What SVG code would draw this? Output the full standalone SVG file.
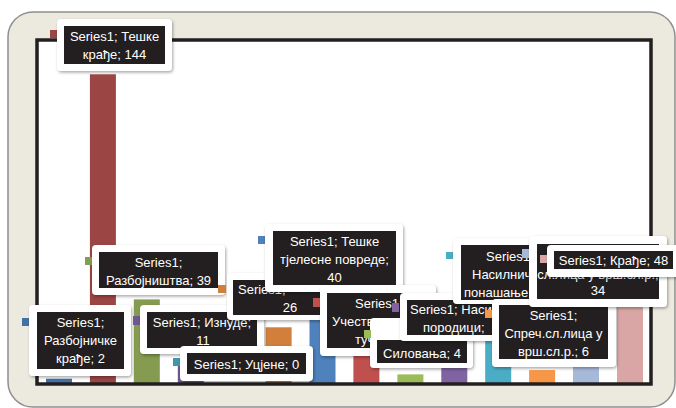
<svg xmlns="http://www.w3.org/2000/svg" width="676" height="408" viewBox="0 0 676 408">
<defs>
<filter id="sh" x="-10%" y="-15%" width="125%" height="140%">
<feDropShadow dx="1" dy="1.5" stdDeviation="1.6" flood-color="#000" flood-opacity="0.35"/>
</filter>
<style>
.frame{fill:#fff;filter:url(#sh)}
.box{fill:#231F20}
.t{font-family:"Liberation Sans",Arial,sans-serif;font-size:13px;fill:#fff}
.m{text-anchor:middle}
</style>
</defs>
<rect x="8" y="12" width="667" height="395" rx="25" fill="#ECE9DF" stroke="#8F8F8F" stroke-width="1.5"/>
<rect x="37" y="40" width="614" height="344" fill="#fff"/>
<g id="bars">
<rect x="46" y="378.7" width="26" height="5.3" fill="#4470A6"/>
<rect x="89.9" y="74.3" width="26" height="309.7" fill="#9B4544"/>
<rect x="133.8" y="299.4" width="26" height="84.6" fill="#859B4F"/>
<rect x="177.8" y="359.4" width="26" height="24.6" fill="#6E5890"/>
<rect x="265.6" y="327.3" width="26" height="56.7" fill="#D17F3A"/>
<rect x="309.5" y="297.2" width="26" height="86.8" fill="#4F81BD"/>
<rect x="353.4" y="340" width="26" height="44" fill="#C0504D"/>
<rect x="397.4" y="374.4" width="26" height="9.6" fill="#9BBB59"/>
<rect x="441.3" y="366" width="26" height="18" fill="#8064A2"/>
<rect x="485.2" y="318.7" width="26" height="65.3" fill="#4BACC6"/>
<rect x="529.1" y="370.1" width="26" height="13.9" fill="#F79646"/>
<rect x="573" y="310.1" width="26" height="73.9" fill="#A7B9D8"/>
<rect x="617" y="280.1" width="26" height="103.9" fill="#D9A6A5"/>
</g>
<rect id="plot-frame" x="37" y="40" width="614" height="344" fill="none" stroke="#231F20" stroke-width="3.5"/>
<g id="labels">
<g id="label-teske-kradje">
<rect x="50" y="30" width="7" height="8" fill="#9B4544"/>
<rect class="frame" x="57" y="19" width="115" height="52" rx="4"/>
<rect class="box" x="64" y="26" width="101" height="38"/>
<text class="t m" x="114.5" y="41">Series1; Тешке</text>
<text class="t m" x="114.5" y="59">крађе; 144</text>
</g>
<g id="label-razbojnistva">
<rect x="85" y="257" width="7" height="8" fill="#859B4F"/>
<rect class="frame" x="92" y="245" width="133" height="50" rx="4"/>
<rect class="box" x="99" y="252" width="119" height="36"/>
<text class="t m" x="158.5" y="266.5">Series1;</text>
<text class="t m" x="158.5" y="284.5">Разбојништва; 39</text>
</g>
<g id="label-razbojnicke-kradje">
<rect x="22" y="318" width="7" height="8" fill="#4470A6"/>
<rect class="frame" x="29" y="305" width="102" height="71" rx="4"/>
<rect class="box" x="37" y="312" width="87" height="57"/>
<text class="t m" x="80.5" y="327">Series1;</text>
<text class="t m" x="80.5" y="345">Разбојничке</text>
<text class="t m" x="80.5" y="363">крађе; 2</text>
</g>
<g id="label-iznude">
<rect x="133" y="316" width="7" height="9" fill="#6E5890"/>
<rect class="frame" x="140" y="305" width="124" height="49" rx="4"/>
<rect class="box" x="147" y="312" width="110" height="36"/>
<text class="t m" x="202" y="327">Series1; Изнуде;</text>
<text class="t m" x="203" y="345">11</text>
</g>
<g id="label-ucjene">
<rect x="173" y="358" width="7" height="8" fill="#4096AB"/>
<rect class="frame" x="180" y="346" width="133" height="35" rx="4"/>
<rect class="box" x="187" y="353" width="119" height="21"/>
<text class="t m" x="246.5" y="368.5">Series1; Уцјене; 0</text>
</g>
<g id="label-26">
<rect x="218" y="285" width="8" height="8" fill="#D17F3A"/>
<rect class="frame" x="227" y="273" width="126" height="47" rx="4"/>
<rect class="box" x="233" y="280" width="114" height="35"/>
<text class="t" x="238" y="293.5">Series1;</text>
<text class="t m" x="290" y="311.5">26</text>
</g>
<g id="label-teske-tjelesne">
<rect x="258" y="236" width="7" height="8" fill="#4F81BD"/>
<rect class="frame" x="265" y="224" width="138" height="68" rx="4"/>
<rect class="box" x="273" y="231" width="123" height="54"/>
<text class="t m" x="334.5" y="245.5">Series1; Тешке</text>
<text class="t m" x="334.5" y="263.5">тјелесне повреде;</text>
<text class="t m" x="334.5" y="281.5">40</text>
</g>
<g id="label-ucestvovanje">
<rect x="313" y="298" width="7" height="9" fill="#C0504D"/>
<rect class="frame" x="320" y="285" width="116" height="71" rx="4"/>
<rect class="box" x="327" y="293" width="102" height="55"/>
<text class="t" x="355" y="307.5">Series1;</text>
<text class="t" x="332" y="325.5">Учествовање у</text>
<text class="t" x="355" y="343.5">тучи;</text>
</g>
<g id="label-silovanja">
<rect class="frame" x="370" y="318" width="103" height="50" rx="4"/>
<rect class="box" x="377" y="340" width="90" height="23"/>
<text class="t m" x="422" y="357.5">Силовања; 4</text>
<rect x="364" y="330" width="7" height="8" fill="#9BBB59"/>
</g>
<g id="label-nasilje-porodici">
<rect x="392" y="303" width="7" height="9" fill="#8064A2"/>
<rect class="frame" x="400" y="293" width="130" height="48" rx="4"/>
<rect class="box" x="407" y="300" width="116" height="35"/>
<text class="t" x="410" y="313.5">Series1; Насиље у</text>
<text class="t" x="423" y="331.5">породици;</text>
</g>
<g id="label-nasilnicko">
<rect x="446" y="252" width="7" height="7" fill="#4BACC6"/>
<rect class="frame" x="453" y="238" width="112" height="66" rx="4"/>
<rect class="box" x="461" y="245" width="96" height="55"/>
<text class="t" x="486" y="261">Series1;</text>
<text class="t" x="472" y="279">Насилничко</text>
<text class="t" x="464" y="297">понашање;</text>
</g>
<g id="label-sprec">
<rect x="485" y="310" width="7" height="8" fill="#F79646"/>
<rect class="frame" x="492" y="299" width="124" height="68" rx="4"/>
<rect class="box" x="499" y="305" width="109" height="54"/>
<text class="t m" x="553.5" y="320">Series1;</text>
<text class="t m" x="553.5" y="338">Спреч.сл.лица у</text>
<text class="t m" x="553.5" y="356">врш.сл.р.; 6</text>
</g>
<g id="label-34">
<rect x="522" y="249" width="8" height="9" fill="#A7B9D8"/>
<rect class="frame" x="529" y="236" width="138" height="71" rx="4"/>
<rect class="box" x="537" y="244" width="122" height="55"/>
<text class="t m" x="598" y="278.5">сл.лица у врш.сл.р.;</text>
<text class="t m" x="598" y="295">34</text>
</g>
<g id="label-kradje">
<rect x="540" y="255" width="7" height="8" fill="#D9A6A5"/>
<rect class="frame" x="547" y="245" width="133" height="32" rx="4"/>
<rect class="box" x="554" y="251" width="119" height="18"/>
<text class="t m" x="613.5" y="265">Series1; Крађе; 48</text>
</g>
</g>
</svg>
